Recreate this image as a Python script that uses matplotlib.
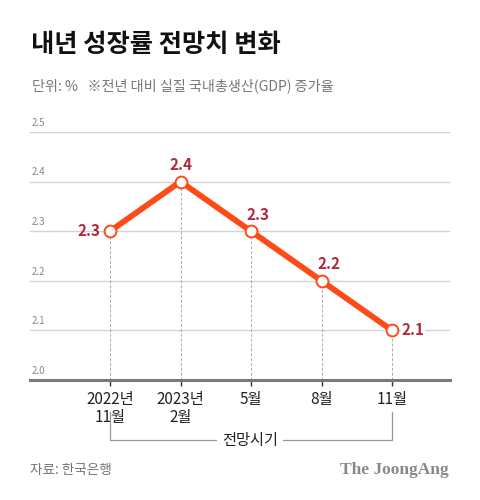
import matplotlib
matplotlib.use("Agg")
import matplotlib.pyplot as plt

plt.rcParams['font.family'] = ['Noto Sans CJK KR', 'DejaVu Sans']

categories = ["2022년\n11월", "2023년\n2월", "5월", "8월", "11월"]
values = [2.3, 2.4, 2.3, 2.2, 2.1]
yticks = [2.0, 2.1, 2.2, 2.3, 2.4, 2.5]
ytick_labels = ["2.0", "2.1", "2.2", "2.3", "2.4", "2.5"]

title = "내년 성장률 전망치 변화"
subtitle = "단위: %   ※전년 대비 실질 국내총생산(GDP) 증가율"
source = "자료: 한국은행"
brand = "The JoongAng"
period_label = "전망시기"

W, H = 480, 500
fig = plt.figure(figsize=(W / 100, H / 100), dpi=100)

left, right = 30 / W, 450 / W
bottom, top = 1 - 380 / H, 1 - 132 / H
ax = fig.add_axes([left, bottom, right - left, top - bottom])

x = list(range(len(values)))
ax.set_xlim(-80 / 70.5, len(values) - 1 + 58 / 70.5)
ax.set_ylim(2.0, 2.5)

# grid lines
for yv in yticks[1:]:
    ax.axhline(yv, color="#d4d4d4", lw=1.0, zorder=1)
for yv, lab in zip(yticks, ytick_labels):
    ax.annotate(lab, xy=(0, yv), xycoords=("axes fraction", "data"),
                xytext=(1, 3), textcoords="offset points",
                fontsize=7, color="#888888", ha="left", va="bottom")

# bottom axis
ax.axhline(2.0, color="#7a7a7a", lw=2.2, zorder=2, clip_on=False)

# vertical dashed lines
for xi, v in zip(x, values):
    ax.plot([xi, xi], [2.0, v], color="#aaaaaa", lw=0.7, ls=(0, (3, 2)), zorder=1)

ax.plot(x, values, color="#FF4A17", lw=4.2, solid_capstyle="round",
        solid_joinstyle="round", zorder=3, clip_on=False)
ax.plot(x, values, ls="none", marker="o", ms=8.5, mfc="white", mec="#FF4A17",
        mew=1.4, zorder=4, clip_on=False)

# data labels
red = "#B0283C"
label_pos = [(-7, 0, "right", "center"), (0, 6, "center", "bottom"),
             (-3, 6, "left", "bottom"), (-3, 6, "left", "bottom"),
             (7, 0, "left", "center")]
for xi, v, (dx, dy, ha, va) in zip(x, values, label_pos):
    ax.annotate(f"{v:.1f}", xy=(xi, v), xytext=(dx, dy), textcoords="offset points",
                ha=ha, va=va, fontsize=11, fontweight="bold", color=red, zorder=5,
                bbox=dict(boxstyle="square,pad=0.05", fc="white", ec="none") if xi == 4 else None)

ax.set_xticks(x)
ax.set_xticklabels(categories, fontsize=11, color="#222222", linespacing=1.05)
ax.tick_params(axis="x", length=4, width=1, color="#333333", pad=4, direction="out")
ax.set_yticks([])
for s in ax.spines.values():
    s.set_visible(False)

# bracket
def fx(px):
    return px / W
def fy(py):
    return 1 - py / H

bx0, bx1 = 110, 392
by0, by1 = 412, 440
fig.add_artist(plt.Line2D([fx(bx0), fx(bx0), fx(bx1), fx(bx1)],
                          [fy(by0), fy(by1), fy(by1), fy(by0)],
                          color="#999999", lw=0.9))
fig.text(fx(250), fy(by1), period_label, ha="center", va="center", fontsize=11,
         color="#222222", bbox=dict(boxstyle="square,pad=0.3", fc="white", ec="none"))

fig.text(fx(31), fy(44), title, fontsize=18.2, fontweight="black", color="#111111",
         ha="left", va="center")
fig.text(fx(32), fy(86), subtitle, fontsize=10.2, color="#777777", ha="left", va="center")
fig.text(fx(30), fy(470), source, fontsize=9.8, color="#777777", ha="left", va="center")
fig.text(fx(449), fy(470), brand, fontsize=12.5, fontweight="bold", color="#888888",
         ha="right", va="center", family="Liberation Serif")

fig.savefig("out.png", dpi=100, facecolor="white")
